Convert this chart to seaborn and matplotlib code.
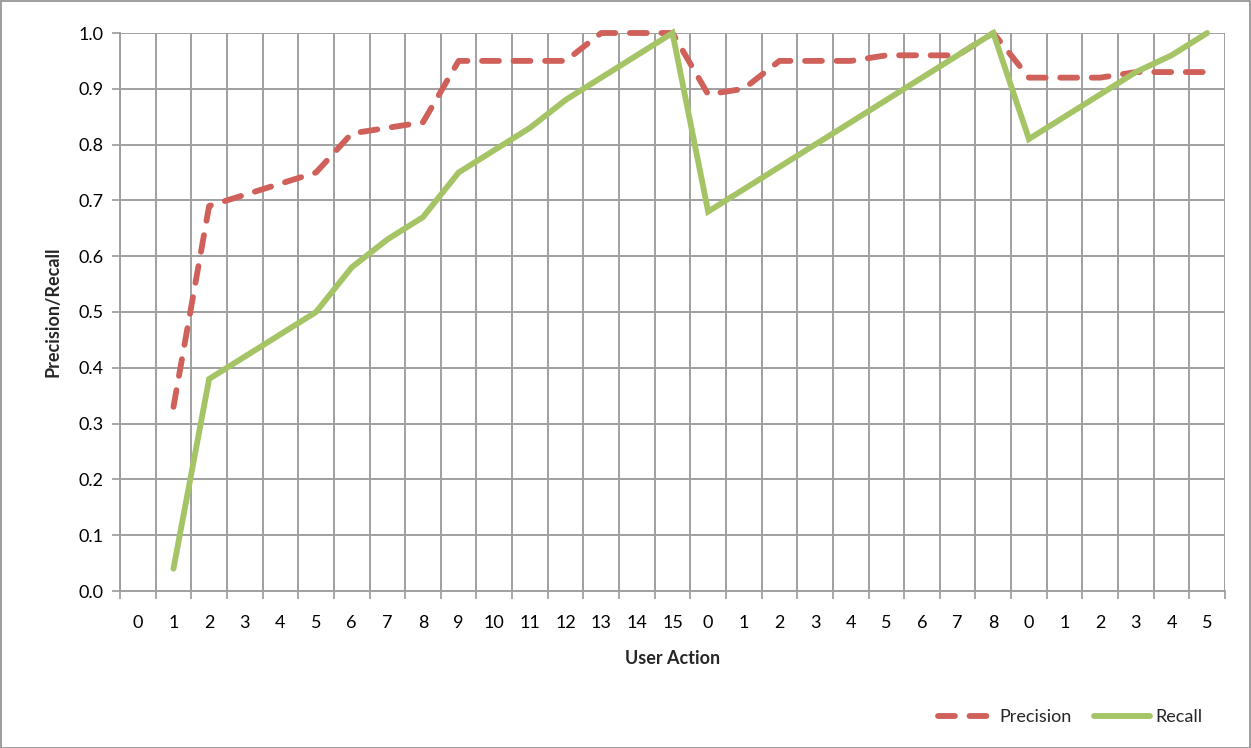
import matplotlib
matplotlib.use("Agg")
import matplotlib.pyplot as plt
import seaborn as sns
import pandas as pd
import numpy as np
from matplotlib.patches import Rectangle
from matplotlib.ticker import FixedLocator

# ---- data ----
x_labels = ["0", "1", "2", "3", "4", "5", "6", "7", "8", "9", "10", "11", "12", "13", "14", "15",
            "0", "1", "2", "3", "4", "5", "6", "7", "8",
            "0", "1", "2", "3", "4", "5"]
precision = [np.nan, 0.33, 0.69, 0.71, 0.73, 0.75, 0.82, 0.83, 0.84, 0.95, 0.95, 0.95, 0.95, 1.0, 1.0, 1.0,
             0.89, 0.90, 0.95, 0.95, 0.95, 0.96, 0.96, 0.96, 1.0,
             0.92, 0.92, 0.92, 0.93, 0.93, 0.93]
recall = [np.nan, 0.04, 0.38, 0.42, 0.46, 0.50, 0.58, 0.63, 0.67, 0.75, 0.79, 0.83, 0.88, 0.92, 0.96, 1.0,
          0.68, 0.72, 0.76, 0.80, 0.84, 0.88, 0.92, 0.96, 1.0,
          0.81, 0.85, 0.89, 0.93, 0.96, 1.0]
y_ticks = [0.0, 0.1, 0.2, 0.3, 0.4, 0.5, 0.6, 0.7, 0.8, 0.9, 1.0]

idx = list(range(len(x_labels)))
df_p = pd.DataFrame({"idx": idx, "value": precision})
df_r = pd.DataFrame({"idx": idx, "value": recall})

sns.set_theme(style="white")
plt.rcParams['font.family'] = ['Lato', 'DejaVu Sans']

W, H = 1251, 748
fig = plt.figure(figsize=(W / 100, H / 100), dpi=100)
ax = fig.add_axes([120 / W, 1 - 591 / H, (1225 - 120) / W, (591 - 33) / H])

red = "#D0605A"
green = "#A5C465"
grid_c = "#A0A0A0"
lw = 4.2
fs = 13

sns.lineplot(data=df_p, x="idx", y="value", ax=ax, color=red, linewidth=lw,
             label="Precision", clip_on=False, zorder=3)
lp = ax.lines[-1]
lp.set_dashes([2.9, 2.5])
lp.set_dash_capstyle("round")
lp.set_dash_joinstyle("round")
sns.lineplot(data=df_r, x="idx", y="value", ax=ax, color=green, linewidth=lw,
             label="Recall", clip_on=False, zorder=4)
lr = ax.lines[-1]
lr.set_solid_capstyle("round")
lr.set_solid_joinstyle("miter")

ax.set_xlim(-0.5, len(x_labels) - 0.5)
ax.set_ylim(0, 1.0)

ax.xaxis.set_major_locator(FixedLocator(idx))
ax.set_xticklabels(x_labels)
ax.xaxis.set_minor_locator(FixedLocator(np.arange(-0.5, len(x_labels), 1.0)))
ax.set_yticks(y_ticks)
ax.set_yticklabels([f"{v:.1f}" for v in y_ticks])

ax.tick_params(axis="x", which="major", length=0, pad=17, labelsize=fs, colors="black")
ax.tick_params(axis="x", which="minor", length=6, width=1.3, color=grid_c, direction="out", bottom=True)
ax.tick_params(axis="y", which="major", length=6, width=1.3, color=grid_c, direction="out", left=True,
               pad=6, labelsize=fs, labelcolor="black")

ax.grid(False)
ax.xaxis.grid(True, which="minor", color=grid_c, linewidth=1.4)
ax.yaxis.grid(True, which="major", color=grid_c, linewidth=1.4)
ax.set_axisbelow(True)

for s in ["top", "right"]:
    ax.spines[s].set_visible(False)
for s in ["left", "bottom"]:
    ax.spines[s].set_color(grid_c)
    ax.spines[s].set_linewidth(1.4)

ax.set_xlabel("User Action", fontsize=fs, fontweight="bold", labelpad=14)
ax.set_ylabel("Precision/Recall", fontsize=fs, fontweight="bold", labelpad=12)

handles, labels = ax.get_legend_handles_labels()
ax.get_legend().remove()
leg = fig.legend(handles, labels, loc="center left", bbox_to_anchor=(922 / W, 1 - 717 / H),
                 ncol=2, frameon=False, fontsize=fs, handlelength=3.1, handletextpad=0.3,
                 columnspacing=1.2)
for lh in leg.get_lines():
    lh.set_solid_capstyle("round")
    lh.set_dash_capstyle("round")

fig.patches.append(Rectangle((0.5 / W, 0.5 / H), 1 - 1.5 / W, 1 - 1.5 / H, transform=fig.transFigure,
                             fill=False, edgecolor="#8C8C8C", linewidth=1.2))

fig.savefig("out.png", dpi=100)
